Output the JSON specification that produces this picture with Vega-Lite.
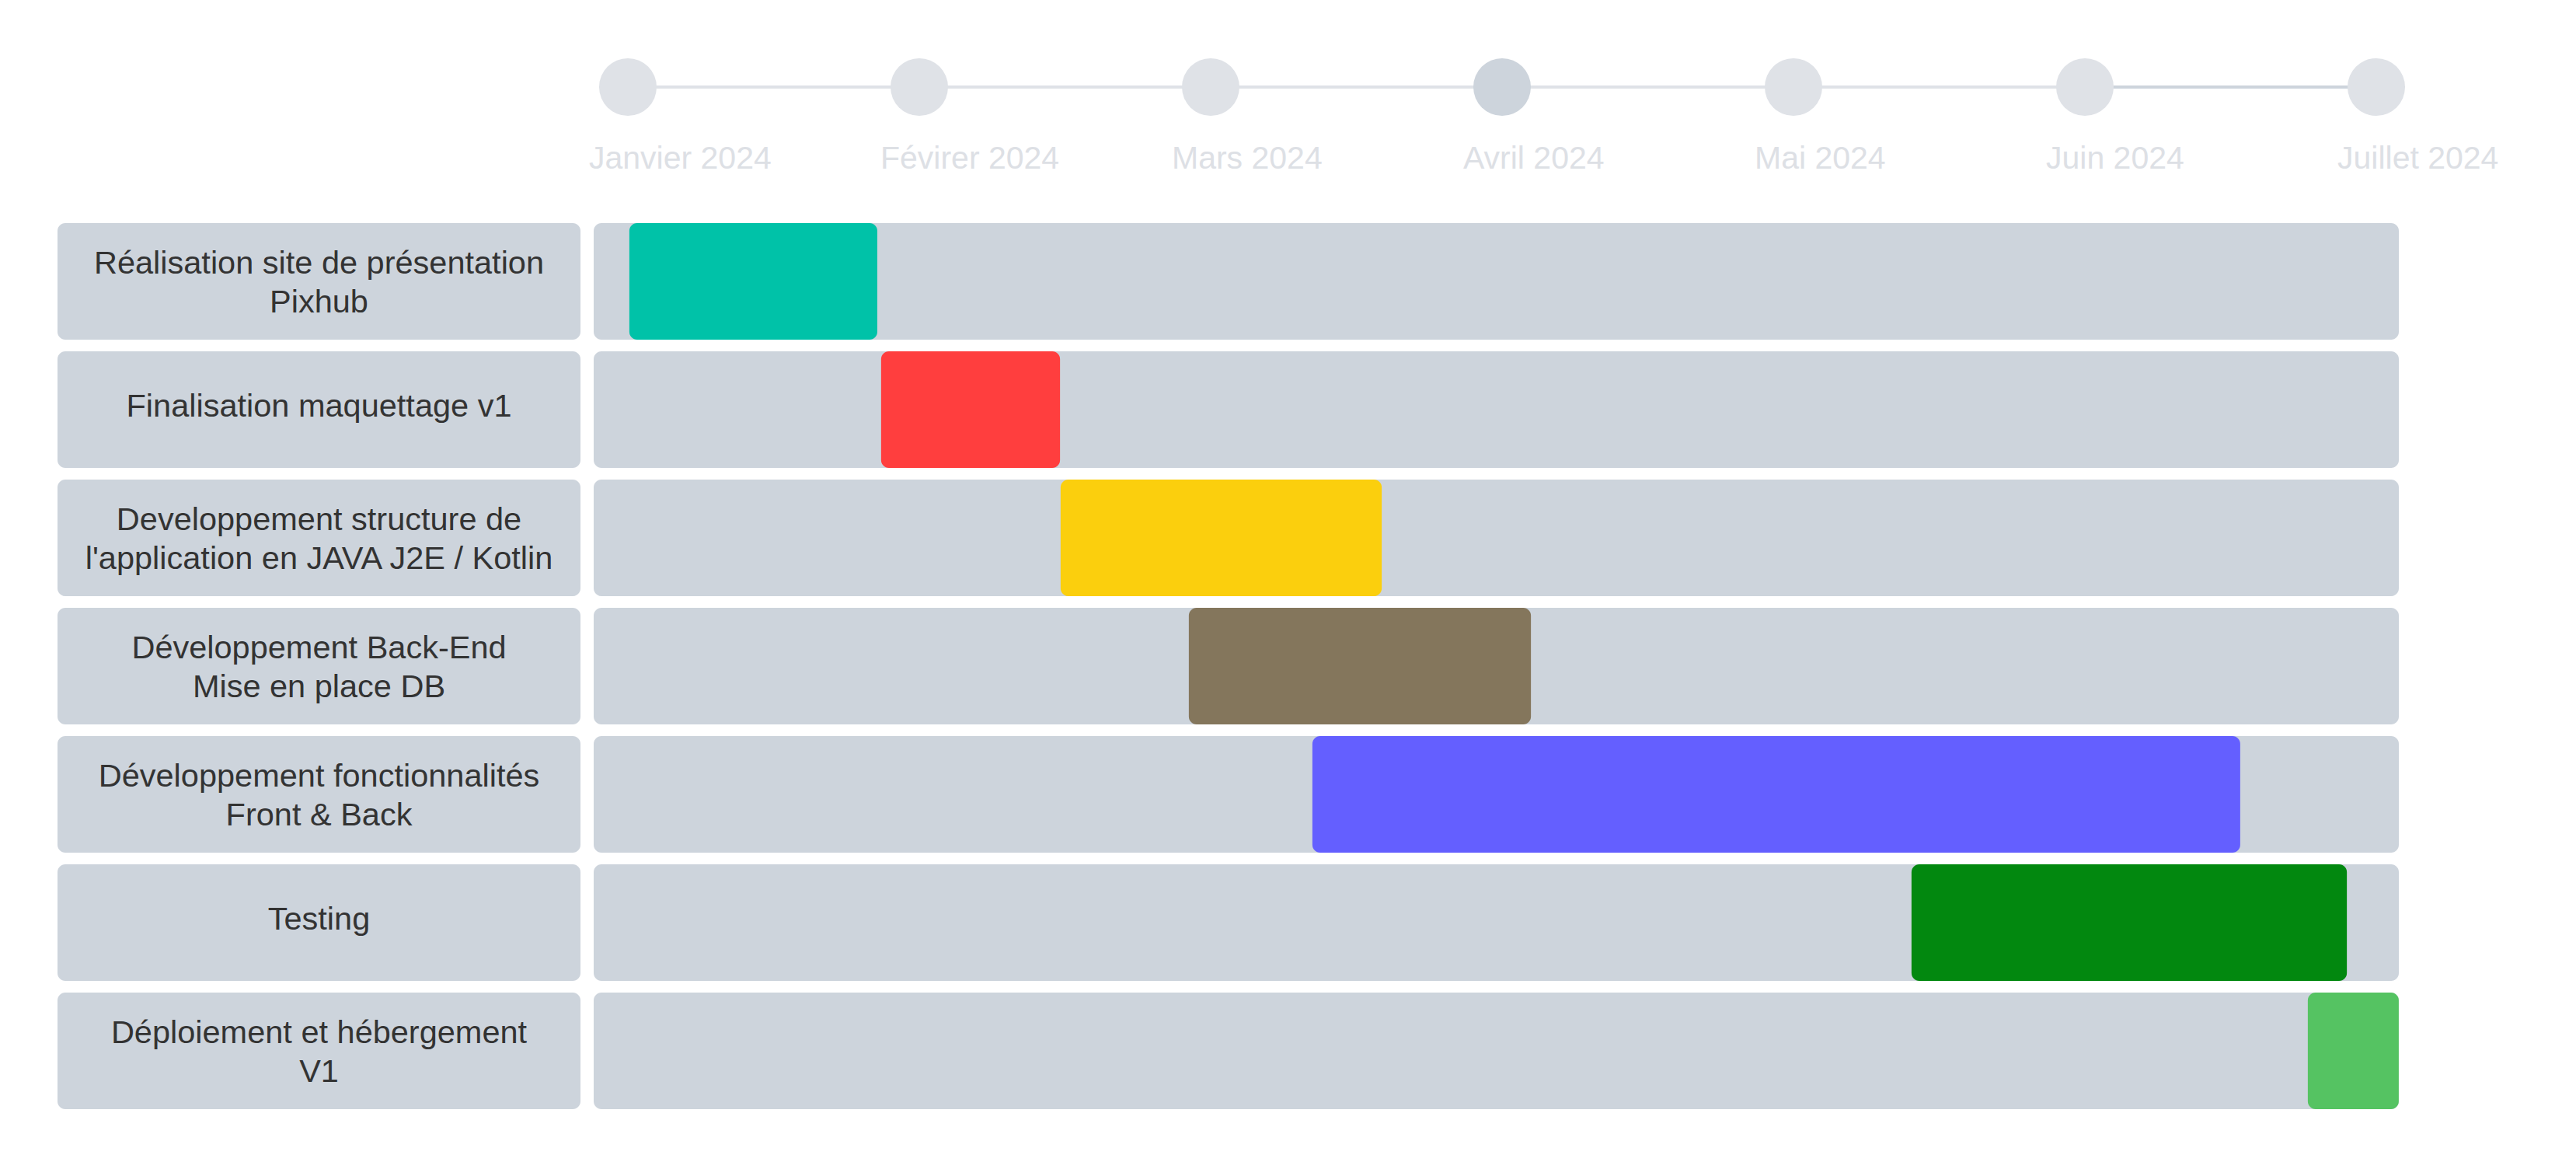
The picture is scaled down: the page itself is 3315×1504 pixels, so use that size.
{
  "$schema": "https://vega.github.io/schema/vega-lite/v6.json",
  "background": "white",
  "padding": {"left": 74, "top": 0, "right": 0, "bottom": 0},
  "config": {"view": {"stroke": null}, "font": "Liberation Sans"},
  "datasets": {
    "taches": [
      {"tache": "Réalisation site de présentation\nPixhub", "debut": 0.005, "fin": 0.856},
      {"tache": "Finalisation maquettage v1", "debut": 0.869, "fin": 1.483},
      {"tache": "Developpement structure de\nl'application en JAVA J2E / Kotlin", "debut": 1.485, "fin": 2.587},
      {"tache": "Développement Back-End\nMise en place DB", "debut": 1.925, "fin": 3.099},
      {"tache": "Développement fonctionnalités\nFront & Back", "debut": 2.349, "fin": 5.533},
      {"tache": "Testing", "debut": 4.405, "fin": 5.899},
      {"tache": "Déploiement et hébergement\nV1", "debut": 5.765, "fin": 6.077}
    ],
    "mois": [
      {"mois": 0, "libelle": "Janvier 2024", "etat": "base"},
      {"mois": 1, "libelle": "Févirer 2024", "etat": "base"},
      {"mois": 2, "libelle": "Mars 2024", "etat": "base"},
      {"mois": 3, "libelle": "Avril 2024", "etat": "actif"},
      {"mois": 4, "libelle": "Mai 2024", "etat": "base"},
      {"mois": 5, "libelle": "Juin 2024", "etat": "base"},
      {"mois": 6, "libelle": "Juillet 2024", "etat": "base"}
    ],
    "segments": [
      {"de": 0, "a": 6, "etat": "base"},
      {"de": 5, "a": 6, "etat": "actif"}
    ]
  },
  "spacing": 17,
  "bounds": "flush",
  "resolve": {"scale": {"y": "independent", "color": "independent"}},
  "hconcat": [
    {
      "width": 673,
      "height": 1470,
      "data": {"name": "taches"},
      "encoding": {
        "y": {
          "field": "tache", "type": "nominal", "sort": null, "axis": null,
          "scale": {"paddingInner": 0.090909, "paddingOuter": 1, "align": 0.8697}
        }
      },
      "layer": [
        {"mark": {"type": "rect", "color": "#cdd4dc", "cornerRadius": 10}},
        {
          "transform": [{"filter": "indexof(datum.tache, '\\n') < 0"}],
          "mark": {"type": "text", "fontSize": 41.5, "color": "#333333", "lineBreak": "\n", "lineHeight": 50, "baseline": "middle", "align": "center", "dy": -3, "font": "Liberation Sans"},
          "encoding": {"text": {"field": "tache", "type": "nominal"}}
        },
        {
          "transform": [{"filter": "indexof(datum.tache, '\\n') >= 0"}],
          "mark": {"type": "text", "fontSize": 41.5, "color": "#333333", "lineBreak": "\n", "lineHeight": 50, "baseline": "middle", "align": "center", "dy": -22, "font": "Liberation Sans"},
          "encoding": {"text": {"field": "tache", "type": "nominal"}}
        }
      ]
    },
    {
      "width": 2323,
      "height": 1470,
      "resolve": {"scale": {"y": "independent", "color": "independent"}},
      "layer": [
        {
          "data": {"name": "segments"},
          "mark": {"type": "rule", "strokeWidth": 4},
          "encoding": {
            "x": {"field": "de", "type": "quantitative", "axis": null, "scale": {"domain": [-0.11733, 6.07733], "nice": false, "zero": false}},
            "x2": {"field": "a"},
            "y": {"datum": 1, "type": "quantitative", "axis": null, "scale": {"domain": [0, 13.125], "reverse": true, "nice": false, "zero": false}},
            "color": {"field": "etat", "type": "nominal", "legend": null, "scale": {"domain": ["base", "actif"], "range": ["#dfe2e7", "#cdd4dc"]}}
          }
        },
        {
          "data": {"name": "mois"},
          "mark": {"type": "circle", "size": 5476, "opacity": 1},
          "encoding": {
            "x": {"field": "mois", "type": "quantitative", "axis": null, "scale": {"domain": [-0.11733, 6.07733], "nice": false, "zero": false}},
            "y": {"datum": 1, "type": "quantitative", "axis": null, "scale": {"domain": [0, 13.125], "reverse": true, "nice": false, "zero": false}},
            "color": {"field": "etat", "type": "nominal", "legend": null, "scale": {"domain": ["base", "actif"], "range": ["#dfe2e7", "#cdd4dc"]}}
          }
        },
        {
          "data": {"name": "mois"},
          "mark": {"type": "text", "fontSize": 41, "color": "#dde0e5", "align": "left", "baseline": "alphabetic", "dx": -50, "dy": 105, "font": "Liberation Sans"},
          "encoding": {
            "x": {"field": "mois", "type": "quantitative", "axis": null, "scale": {"domain": [-0.11733, 6.07733], "nice": false, "zero": false}},
            "y": {"datum": 1, "type": "quantitative", "axis": null, "scale": {"domain": [0, 13.125], "reverse": true, "nice": false, "zero": false}},
            "text": {"field": "libelle", "type": "nominal"}
          }
        },
        {
          "data": {"name": "taches"},
          "encoding": {
            "y": {
              "field": "tache", "type": "nominal", "sort": null, "axis": null,
              "scale": {"paddingInner": 0.090909, "paddingOuter": 1, "align": 0.8697}
            }
          },
          "layer": [
            {"mark": {"type": "rect", "color": "#cdd4dc", "cornerRadius": 10}},
            {
              "mark": {"type": "rect", "cornerRadius": 10, "opacity": 1},
              "encoding": {
                "x": {"field": "debut", "type": "quantitative", "axis": null, "scale": {"domain": [-0.11733, 6.07733], "nice": false, "zero": false}},
                "x2": {"field": "fin"},
                "color": {
                  "field": "tache", "type": "nominal", "legend": null, "sort": null,
                  "scale": {
                    "domain": [
                      "Réalisation site de présentation\nPixhub",
                      "Finalisation maquettage v1",
                      "Developpement structure de\nl'application en JAVA J2E / Kotlin",
                      "Développement Back-End\nMise en place DB",
                      "Développement fonctionnalités\nFront & Back",
                      "Testing",
                      "Déploiement et hébergement\nV1"
                    ],
                    "range": ["#00c2a8", "#ff3e3e", "#fbcf0d", "#84765c", "#645fff", "#02880f", "#55c362"]
                  }
                }
              }
            }
          ]
        }
      ]
    }
  ]
}
